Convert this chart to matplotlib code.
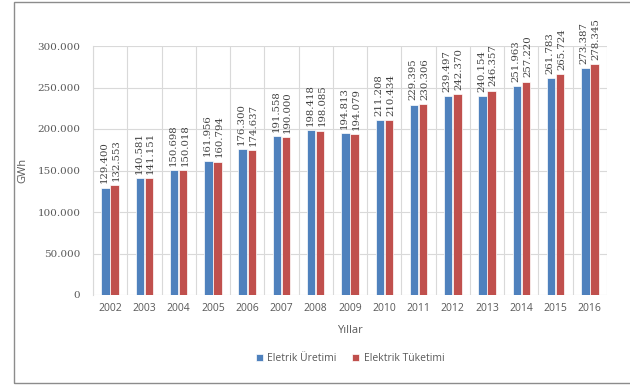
import matplotlib
matplotlib.use("Agg")
import matplotlib.pyplot as plt
import numpy as np
from matplotlib.patches import Rectangle

years = ["2002", "2003", "2004", "2005", "2006", "2007", "2008", "2009",
         "2010", "2011", "2012", "2013", "2014", "2015", "2016"]
uretim = [129400, 140581, 150698, 161956, 176300, 191558, 198418, 194813,
          211208, 229395, 239497, 240154, 251963, 261783, 273387]
tuketim = [132553, 141151, 150018, 160794, 174637, 190000, 198085, 194079,
           210434, 230306, 242370, 246357, 257220, 265724, 278345]
yticks = [0, 50000, 100000, 150000, 200000, 250000, 300000]

def fmt(v):
    return f"{v:,}".replace(",", ".")

blue = "#4F81BD"
red = "#C0504D"
grid = "#D9D9D9"
tick_col = "#595959"

fig = plt.figure(figsize=(6.3, 3.85), dpi=100)
ax = fig.add_axes([93/630, 1-295/385, (607-93)/630, (295-46)/385])

x = np.arange(len(years))
w = 0.245
ax.bar(x - w/2 - 0.01, uretim, width=w, color=blue, edgecolor="white", linewidth=0.5, zorder=3, label="Eletrik Üretimi")
ax.bar(x + w/2 + 0.01, tuketim, width=w, color=red, edgecolor="white", linewidth=0.5, zorder=3, label="Elektrik Tüketimi")

for i in range(len(years)):
    ax.annotate(fmt(uretim[i]), (x[i] - w/2 - 0.04, uretim[i]), xytext=(0, 3), textcoords="offset points",
                rotation=90, ha="center", va="bottom", fontsize=7.3, color="#404040", family="DejaVu Serif")
    ax.annotate(fmt(tuketim[i]), (x[i] + w/2 + 0.06, tuketim[i]), xytext=(0, 3), textcoords="offset points",
                rotation=90, ha="center", va="bottom", fontsize=7.3, color="#404040", family="DejaVu Serif")

ax.set_xlim(-0.5, len(years) - 0.5)
ax.set_ylim(0, 300000)
ax.set_yticks(yticks)
ax.set_yticklabels([fmt(v) for v in yticks], fontsize=7.5, color=tick_col, family="DejaVu Serif")
ax.set_xticks(x)
ax.set_xticklabels(years, fontsize=7.5, color=tick_col, family="Open Sans")
ax.set_xticks(np.arange(-0.5, len(years), 1), minor=True)
ax.tick_params(axis="both", which="both", length=0)
ax.tick_params(axis="y", pad=9)
ax.tick_params(axis="x", pad=6)
ax.grid(axis="y", color=grid, linewidth=0.8, zorder=0)
ax.grid(axis="x", which="minor", color=grid, linewidth=0.8, zorder=0)
for s in ["top", "right", "bottom"]:
    ax.spines[s].set_visible(False)
ax.spines["left"].set_color(grid)
ax.spines["left"].set_linewidth(0.8)

ax.set_xlabel("Yıllar", fontsize=8, color=tick_col, family="Open Sans", labelpad=8)
ax.set_ylabel("GWh", fontsize=8, color=tick_col, family="Open Sans")
ax.yaxis.set_label_coords(-0.125, 0.5)

leg = ax.legend(loc="upper center", bbox_to_anchor=(0.5, -0.195), ncol=2, frameon=False,
                handlelength=0.7, handleheight=0.7, handletextpad=0.4, columnspacing=1.5,
                prop={"family": "Open Sans", "size": 7.5})
for t in leg.get_texts():
    t.set_color(tick_col)

fig.patches.append(Rectangle((14/630, 2/385), 1.0, 381/385, transform=fig.transFigure,
                             fill=False, edgecolor="#8C8C8C", linewidth=1.0))

fig.savefig("out.png", dpi=100)
